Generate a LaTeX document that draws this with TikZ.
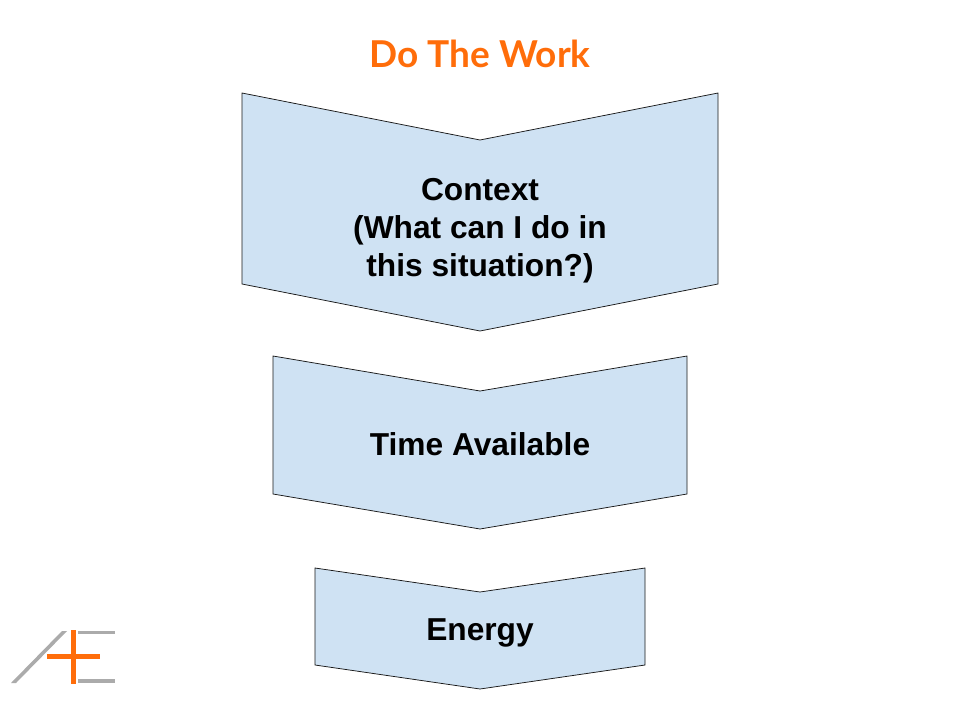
\documentclass[tikz,border=0pt]{standalone}
\usepackage{fontspec}
\setmainfont{Liberation Sans}
\newfontfamily\titlefont{Lato}
\definecolor{boxblue}{HTML}{CFE2F3}
\definecolor{aeorange}{HTML}{FF6D0A}
\definecolor{aegray}{HTML}{ABABAB}
\tikzset{
  chev/.style={draw=black!90,line width=0.75pt,fill=boxblue,line join=miter},
  lbl/.style={align=center,font=\fontsize{31.7}{38}\selectfont\bfseries,text=black,inner sep=0pt},
  ttl/.style={font=\titlefont\fontsize{37}{44}\selectfont\bfseries,text=aeorange,inner sep=0pt},
  logoo/.style={draw=aeorange,line width=5pt},
  logog/.style={draw=aegray,line width=3.8pt}
}
\begin{document}
\begin{tikzpicture}[x=1pt,y=-1pt]
\useasboundingbox (0,0) rectangle (960,720);
\fill[white] (0,0) rectangle (960,720);
\node[ttl,anchor=center] (title) at (480,54) {Do The Work};
\draw[chev] (242,93) -- (480,140) -- (718,93) -- (718,284) -- (480,331) -- (242,284) -- cycle;
\node[lbl] (context) at (480,230.5) {Context\\(What can I do in\\this situation?)};
\draw[chev] (273,356) -- (480,391) -- (687,356) -- (687,494) -- (480,529) -- (273,494) -- cycle;
\node[lbl] (time) at (480,444) {Time Available};
\draw[chev] (315,568) -- (480,592) -- (645,568) -- (645,665) -- (480,689) -- (315,665) -- cycle;
\node[lbl] (energy) at (480,632.5) {Energy};
\fill[aegray] (62,631) -- (67,631) -- (16,683) -- (11,683) -- cycle;
\draw[logog] (78,632.5) -- (115,632.5);
\draw[logog] (78,681) -- (115,681);
\draw[logoo] (73,630) -- (73,684);
\draw[logoo] (47,656) -- (100,656);
\end{tikzpicture}
\end{document}
